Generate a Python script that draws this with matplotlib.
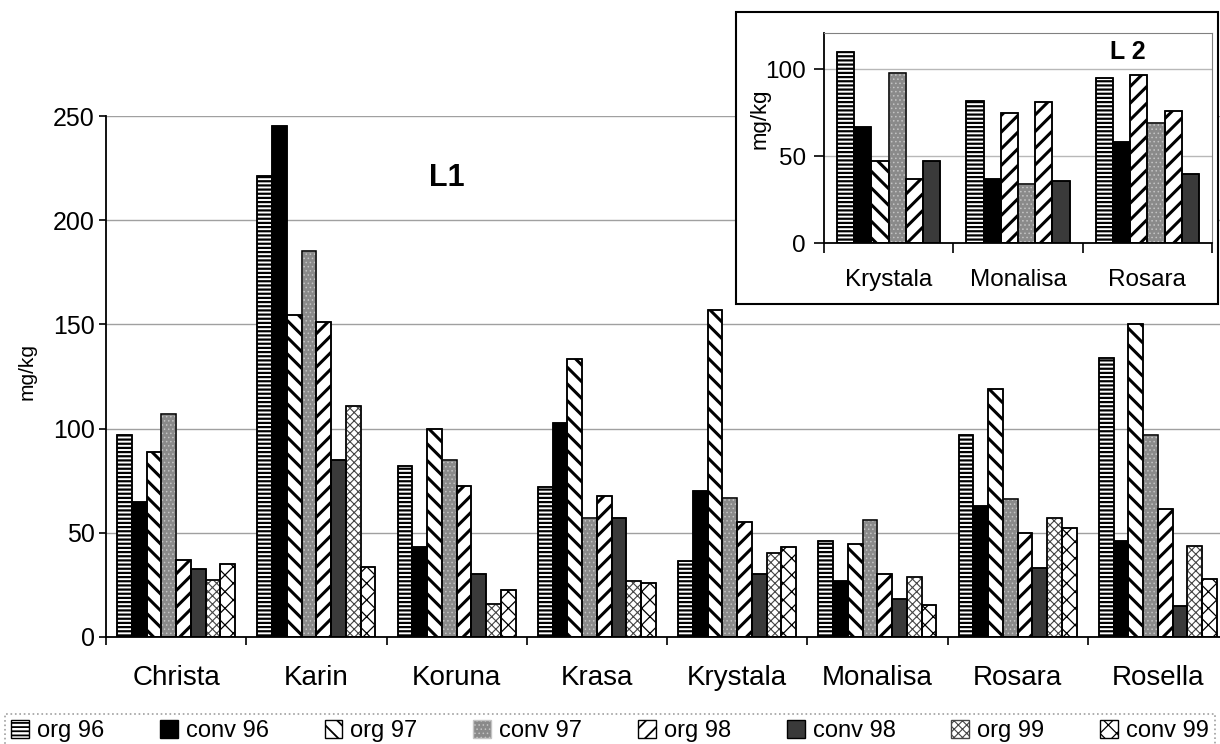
import numpy as np
import matplotlib
matplotlib.use('Agg')
import matplotlib.pyplot as plt
import matplotlib.patches as mpatches

plt.rcParams['font.family'] = ['Liberation Sans', 'DejaVu Sans']

# main chart (L1)
varieties = ['Christa', 'Karin', 'Koruna', 'Krasa', 'Krystala', 'Monalisa', 'Rosara', 'Rosella']
series_names = ['org 96', 'conv 96', 'org 97', 'conv 97', 'org 98', 'conv 98', 'org 99', 'conv 99']
org96 = [97, 221, 82, 72, 36.5, 46, 97, 134]
conv96 = [65, 245, 43, 102.5, 70, 27, 63, 46]
org97 = [89, 154.5, 100, 133.5, 157, 44.5, 119, 150]
conv97 = [107, 185, 85, 57, 66.5, 56, 66, 97]
org98 = [37, 151, 72.5, 67.5, 55, 30, 50, 61.5]
conv98 = [32.5, 85, 30, 57, 30, 18, 33, 15]
org99 = [27.5, 111, 16, 27, 40.5, 29, 57, 43.5]
conv99 = [35, 33.5, 22.5, 26, 43, 15.5, 52.5, 28]

# inset chart (L 2)
l2_varieties = ['Krystala', 'Monalisa', 'Rosara']
l2_org96 = [110, 82, 95]
l2_conv96 = [67, 37, 58]
l2_org97 = [47, 75, 97]
l2_conv97 = [98, 34, 69]
l2_org98 = [37, 81, 76]
l2_conv98 = [47, 36, 40]

# face, hatch, hatch colour, hatch linewidth
styles = {
    'org 96': ('white', '----', 'black', 1.6),
    'conv 96': ('black', '', 'black', 1.0),
    'org 97': ('white', '\\\\', 'black', 2.2),
    'conv 97': ('#8a8a8a', '....', '#c4c4c4', 0.6),
    'org 98': ('white', '//', 'black', 2.2),
    'conv 98': ('#3a3a3a', '', 'black', 1.0),
    'org 99': ('white', 'xxxx', '#444444', 0.8),
    'conv 99': ('white', 'xx', 'black', 0.9),
}
# the inset draws org 97 with other stripes for Monalisa and Rosara
l2_org97_hatch = ['\\\\', '//', '//']


def draw_bars(ax, x, values, name, width, hatches=None):
    face, hatch, hcol, hlw = styles[name]
    bars = ax.bar(x, values, width, color=face, edgecolor=hcol, hatch=hatch,
                  linewidth=1.1, zorder=2)
    for i, b in enumerate(bars):
        if hatches is not None:
            b.set_hatch(hatches[i])
        b.set_hatch_linewidth(hlw)
    ax.bar(x, values, width, fill=False, edgecolor='black', linewidth=1.1, zorder=3)


W, H = 1220, 744
fig = plt.figure(figsize=(W / 100, H / 100), dpi=100)

ax = fig.add_axes([106 / W, 1 - 637 / H, 1122 / W, 521 / H])
ax.set_zorder(0)
main_vals = [org96, conv96, org97, conv97, org98, conv98, org99, conv99]
x = np.arange(len(varieties))
bw = 0.105
for k, (name, vals) in enumerate(zip(series_names, main_vals)):
    draw_bars(ax, x + (k - 3.5) * bw, vals, name, bw)

ax.set_xlim(-0.5, 7.5)
ax.set_ylim(0, 250)
ax.set_yticks([0, 50, 100, 150, 200, 250])
ax.yaxis.grid(True, color='#a0a0a0', linewidth=1)
ax.set_axisbelow(True)
ax.set_xticks(x)
ax.set_xticklabels(varieties, fontsize=20)
ax.set_xticks(np.arange(-0.5, 8, 1), minor=True)
ax.tick_params(axis='x', which='major', length=0, pad=20)
ax.tick_params(axis='x', which='minor', length=6, width=1.2, direction='out')
ax.tick_params(axis='y', labelsize=18, length=5, width=1.2, pad=3)
for s in ['top', 'right']:
    ax.spines[s].set_visible(False)
for s in ['left', 'bottom']:
    ax.spines[s].set_linewidth(1.3)
fig.text(27 / W, 1 - 372 / H, 'mg/kg', rotation=90, fontsize=15,
         ha='center', va='center')
fig.text(447 / W, 1 - 178 / H, 'L1', fontsize=22, fontweight='bold',
         ha='center', va='center')

# inset frame
frame = mpatches.Rectangle((736 / W, 1 - 304 / H), 482 / W, 292 / H,
                           transform=fig.transFigure, facecolor='white',
                           edgecolor='black', linewidth=1.5, zorder=1)
fig.add_artist(frame)

ax2 = fig.add_axes([824 / W, 1 - 243 / H, 388 / W, 210 / H])
ax2.set_zorder(2)
l2_vals = [l2_org96, l2_conv96, l2_org97, l2_conv97, l2_org98, l2_conv98]
x2 = np.arange(len(l2_varieties))
bw2 = 0.133
for k, (name, vals) in enumerate(zip(series_names[:6], l2_vals)):
    draw_bars(ax2, x2 + (k - 2.5) * bw2, vals, name, bw2,
              hatches=l2_org97_hatch if name == 'org 97' else None)
ax2.set_xlim(-0.5, 2.5)
ax2.set_ylim(0, 121)
ax2.set_yticks([0, 50, 100])
ax2.yaxis.grid(True, color='#b8b8b8', linewidth=1)
ax2.set_axisbelow(True)
ax2.set_xticks(x2)
ax2.set_xticklabels(l2_varieties, fontsize=17.5)
ax2.set_xticks(np.arange(-0.5, 3, 1), minor=True)
ax2.tick_params(axis='x', which='major', length=0, pad=19)
ax2.tick_params(axis='x', which='minor', length=7, width=1.2, direction='out')
ax2.tick_params(axis='y', labelsize=17.5, length=7, width=1.2, pad=6)
for s in ['top', 'right']:
    ax2.spines[s].set_color('#808080')
for s in ['left', 'bottom']:
    ax2.spines[s].set_linewidth(1.3)
fig.text(760 / W, 1 - 119 / H, 'mg/kg', rotation=90, fontsize=16,
         ha='center', va='center', zorder=3)
fig.text(1128 / W, 1 - 52 / H, 'L 2', fontsize=18, fontweight='bold',
         ha='center', va='center', zorder=3)

# legend
handles = []
for name in series_names:
    face, hatch, hcol, hlw = styles[name]
    handles.append(mpatches.Patch(facecolor=face, edgecolor='black' if hcol == 'black' else hcol,
                                  hatch=hatch, linewidth=1))
leg = fig.legend(handles, series_names, loc='lower left',
                 bbox_to_anchor=(5 / W, -4 / H, 1210 / W, 38 / H), mode='expand',
                 ncol=8, fontsize=17, handlelength=0.75, handleheight=0.75,
                 handletextpad=0.35, borderaxespad=0, borderpad=0.25,
                 frameon=True, fancybox=False, edgecolor='#888888')
leg.get_frame().set_linestyle(':')
leg.get_frame().set_linewidth(1.2)
for p, name in zip(leg.get_patches(), series_names):
    p.set_hatch_linewidth(min(styles[name][3], 1.3))

fig.savefig('out.png', dpi=100)
